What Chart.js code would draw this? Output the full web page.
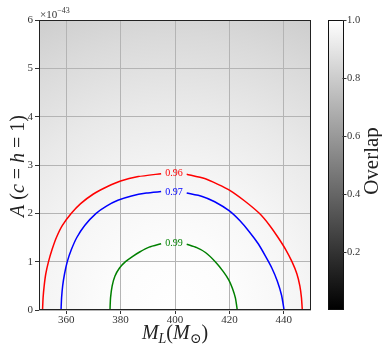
<!DOCTYPE html>
<html>
<head>
<meta charset="utf-8">
<title>Overlap contours</title>
<script src="https://cdn.jsdelivr.net/npm/chart.js@4.4.1/dist/chart.umd.min.js"></script>
<style>
  html, body { margin: 0; padding: 0; background: #ffffff; }
</style>
</head>
<body>
<canvas id="chart" width="382" height="345"></canvas>
<script>
// Axis ticks: lens mass (solar masses), amplitude (units of 1e-43), overlap colour bar
const massTicks = [360, 380, 400, 420, 440];
const ampTicks = [0, 1, 2, 3, 4, 5, 6];
const overlapTicks = [0.2, 0.4, 0.6, 0.8, 1.0];
const ampExponent = '\u221243';

// Contour levels of the overlap and their colours
const levels = [0.96, 0.97, 0.99];
const levelColors = ['#ff0000', '#0000ff', '#008000'];

// Contour paths: M_L and A (x1e-43); null leaves room for the inline label
const mass96 = [351.3, 351.5, 351.9, 352.5, 353.5, 354.8, 356.4, 358.6, 361.9, 365.3, 370.0, 375.0, 380.0, 386.5, 394.9, null,
                404.3, 410.9, 415.8, 420.0, 425.5, 431.0, 434.8, 437.9, 440.7, 443.0, 444.8, 445.9, 446.5, 446.8];
const amp96  = [0, 0.25, 0.5, 0.75, 1.0, 1.25, 1.5, 1.75, 2.0, 2.2, 2.4, 2.55, 2.67, 2.76, 2.82, null,
                2.81, 2.72, 2.60, 2.48, 2.26, 2.0, 1.75, 1.5, 1.25, 1.0, 0.75, 0.5, 0.25, 0];

const mass97 = [358.1, 358.3, 358.7, 359.4, 360.4, 361.9, 363.9, 366.8, 371.0, 374.8, 379.0, 384.0, 389.5, 394.9, null,
                404.3, 410.0, 414.6, 420.0, 423.8, 427.3, 430.6, 433.2, 435.6, 437.6, 439.2, 440.1];
const amp97  = [0, 0.25, 0.5, 0.75, 1.0, 1.25, 1.5, 1.75, 2.0, 2.15, 2.27, 2.36, 2.42, 2.45, null,
                2.42, 2.35, 2.24, 2.05, 1.85, 1.62, 1.37, 1.12, 0.87, 0.6, 0.3, 0];

const mass99 = [376.1, 376.3, 376.9, 377.9, 379.6, 381.8, 384.2, 387.0, 390.5, 394.9, null,
                404.3, 408.0, 411.2, 414.8, 417.7, 419.8, 421.1, 422.2, 422.9];
const amp99  = [0, 0.25, 0.5, 0.7, 0.87, 1.0, 1.1, 1.2, 1.3, 1.37, null,
                1.36, 1.29, 1.19, 1.0, 0.8, 0.62, 0.45, 0.25, 0];

// Where each level's label sits along its contour
const labelMass = [399.6, 399.6, 399.6];
const labelAmp = [2.83, 2.45, 1.39];

// Background shading: overlap reached at multiples of the 0.96 contour radius
const shadeRadius = [0, 0.5, 0.86, 1, 1.5, 2, 2.5];
const shadeOverlap = [1.0, 0.99, 0.97, 0.96, 0.915, 0.855, 0.79];

const SERIF = '"Liberation Serif", "DejaVu Serif", serif';
const TEXT = '#333333';

const gray = v => { const c = Math.round(Math.max(0, Math.min(1, v)) * 255); return `rgb(${c},${c},${c})`; };
const toPoints = (xs, ys) => xs.map((m, i) => ({ x: m, y: ys[i] }));

const paths = [[mass96, amp96], [mass97, amp97], [mass99, amp99]];

// Draw a run of text pieces (italic / subscript / superscript) centred at (cx, baseline)
function drawRuns(ctx, runs, cx, baseline, size) {
  const fontOf = r => `${r.it ? 'italic ' : ''}${(r.sub || r.sup) ? size * 0.7 : size}px ${SERIF}`;
  let total = 0;
  runs.forEach(r => { ctx.font = fontOf(r); r.w = ctx.measureText(r.t).width; total += r.w; });
  let x = cx - total / 2;
  ctx.textAlign = 'left';
  ctx.textBaseline = 'alphabetic';
  runs.forEach(r => {
    ctx.font = fontOf(r);
    const dy = r.sub ? size * 0.22 : (r.sup ? -size * 0.42 : 0);
    ctx.fillText(r.t, x, baseline + dy);
    x += r.w;
  });
}

const shadePlugin = {
  id: 'overlapShade',
  beforeDraw(chart) {
    const { ctx, chartArea: a, scales: { x, y } } = chart;
    const xs = mass96.filter(v => v !== null);
    const cx = x.getPixelForValue(labelMass[0]);
    const cy = y.getPixelForValue(0);
    const rx = (x.getPixelForValue(Math.max(...xs)) - x.getPixelForValue(Math.min(...xs))) / 2;
    const ry = cy - y.getPixelForValue(Math.max(...amp96.filter(v => v !== null)));
    const last = shadeRadius[shadeRadius.length - 1];
    ctx.save();
    ctx.beginPath();
    ctx.rect(a.left, a.top, a.width, a.height);
    ctx.clip();
    ctx.translate(cx, cy);
    ctx.scale(1, ry / rx);
    const g = ctx.createRadialGradient(0, 0, 0, 0, 0, rx * last);
    shadeRadius.forEach((r, i) => g.addColorStop(r / last, gray(shadeOverlap[i])));
    ctx.fillStyle = g;
    ctx.fillRect(-2000, -2000, 4000, 4000);
    ctx.restore();
  }
};

const decorPlugin = {
  id: 'decor',
  afterDatasetsDraw(chart) {
    const { ctx, chartArea: a, scales: { x, y } } = chart;
    ctx.save();
    // contour level labels
    ctx.font = `10px ${SERIF}`;
    ctx.textAlign = 'center';
    ctx.textBaseline = 'middle';
    levels.forEach((lv, i) => {
      ctx.fillStyle = levelColors[i];
      ctx.fillText(lv.toFixed(2), x.getPixelForValue(labelMass[i]), y.getPixelForValue(labelAmp[i]) + 0.5);
    });
    // plot frame
    ctx.strokeStyle = '#222222';
    ctx.lineWidth = 1;
    ctx.strokeRect(Math.round(a.left) + 0.5, Math.round(a.top) + 0.5,
                   Math.round(a.width) - 1, Math.round(a.height) - 1);
    ctx.restore();
  },
  afterDraw(chart) {
    const { ctx, chartArea: a, scales: { cb } } = chart;
    ctx.save();
    ctx.fillStyle = '#222222';

    // axis titles
    drawRuns(ctx, [
      { t: 'M', it: true }, { t: 'L', it: true, sub: true },
      { t: '(' }, { t: 'M', it: true }, { t: '\u2299', sub: true }, { t: ')' }
    ], (a.left + a.right) / 2, 338.5, 20);

    ctx.save();
    ctx.translate(24, (a.top + a.bottom) / 2 + 1);
    ctx.rotate(-Math.PI / 2);
    drawRuns(ctx, [
      { t: 'A', it: true }, { t: ' (' }, { t: 'c', it: true }, { t: ' = ' },
      { t: 'h', it: true }, { t: ' = 1)' }
    ], 0, 0, 20);
    ctx.restore();

    // exponent of the amplitude axis
    ctx.fillStyle = TEXT;
    ctx.textAlign = 'left';
    ctx.textBaseline = 'alphabetic';
    ctx.font = `11px ${SERIF}`;
    ctx.fillText('\u00d710', a.left + 1, a.top - 2);
    const w10 = ctx.measureText('\u00d710').width;
    ctx.font = `8px ${SERIF}`;
    ctx.fillText(ampExponent, a.left + 1 + w10, a.top - 7);

    // colour bar
    const top = cb.getPixelForValue(1), bot = cb.getPixelForValue(0);
    const left = cb.left + 17, w = 15.5;
    const g = ctx.createLinearGradient(0, bot, 0, top);
    g.addColorStop(0, gray(0));
    g.addColorStop(1, gray(1));
    ctx.fillStyle = g;
    ctx.fillRect(left, top, w, bot - top);
    ctx.strokeStyle = '#111111';
    ctx.lineWidth = 1;
    ctx.strokeRect(Math.round(left) + 0.5, Math.round(top) + 0.5, Math.round(w) - 1, Math.round(bot - top) - 1);
    ctx.strokeStyle = TEXT;
    overlapTicks.forEach(v => {
      const py = Math.round(cb.getPixelForValue(v)) + 0.5;
      ctx.beginPath();
      ctx.moveTo(left + w - 1, py);
      ctx.lineTo(left + w + 3, py);
      ctx.stroke();
    });

    // colour bar title
    ctx.save();
    ctx.translate(378, (top + bot) / 2 - 4);
    ctx.rotate(-Math.PI / 2);
    ctx.fillStyle = '#222222';
    drawRuns(ctx, [{ t: 'Overlap' }], 0, 0, 21);
    ctx.restore();
    ctx.restore();
  }
};

const tickFont = { family: SERIF, size: 11, lineHeight: 1 };

new Chart(document.getElementById('chart'), {
  type: 'scatter',
  data: {
    datasets: paths.map(([xs, ys], i) => ({
      label: String(levels[i]),
      data: toPoints(xs, ys),
      showLine: true,
      spanGaps: false,
      borderColor: levelColors[i],
      backgroundColor: levelColors[i],
      borderWidth: 1.5,
      pointRadius: 0,
      tension: 0.2,
      fill: false
    }))
  },
  options: {
    responsive: false,
    animation: false,
    events: [],
    layout: { padding: { top: 20, left: 0, right: 0, bottom: 0 } },
    plugins: { legend: { display: false }, tooltip: { enabled: false } },
    scales: {
      x: {
        type: 'linear', position: 'bottom', min: 350, max: 450,
        afterBuildTicks: s => { s.ticks = massTicks.map(v => ({ value: v })); },
        afterFit: s => { s.height = 35; },
        grid: { color: '#b4b4b4', lineWidth: 1, tickLength: 4, tickColor: TEXT },
        border: { display: false },
        ticks: { font: tickFont, color: TEXT, padding: 1, maxRotation: 0 }
      },
      y: {
        type: 'linear', position: 'left', min: 0, max: 6,
        afterBuildTicks: s => { s.ticks = ampTicks.map(v => ({ value: v })); },
        afterFit: s => { s.width = 39; },
        grid: { color: '#b4b4b4', lineWidth: 1, tickLength: 4, tickColor: TEXT },
        border: { display: false },
        ticks: { font: tickFont, color: TEXT, padding: 2 }
      },
      cb: {
        type: 'linear', position: 'right', min: 0, max: 1,
        afterBuildTicks: s => { s.ticks = overlapTicks.map(v => ({ value: v })); },
        afterFit: s => { s.width = 71; },
        grid: { display: true, drawOnChartArea: false, drawTicks: true, tickLength: 34,
                color: 'rgba(0,0,0,0)', tickColor: 'rgba(0,0,0,0)' },
        border: { display: false },
        ticks: { font: { family: SERIF, size: 10.5, lineHeight: 1 }, color: TEXT, padding: 2,
                 callback: v => v.toFixed(1) }
      }
    }
  },
  plugins: [shadePlugin, decorPlugin]
});
</script>
</body>
</html>
